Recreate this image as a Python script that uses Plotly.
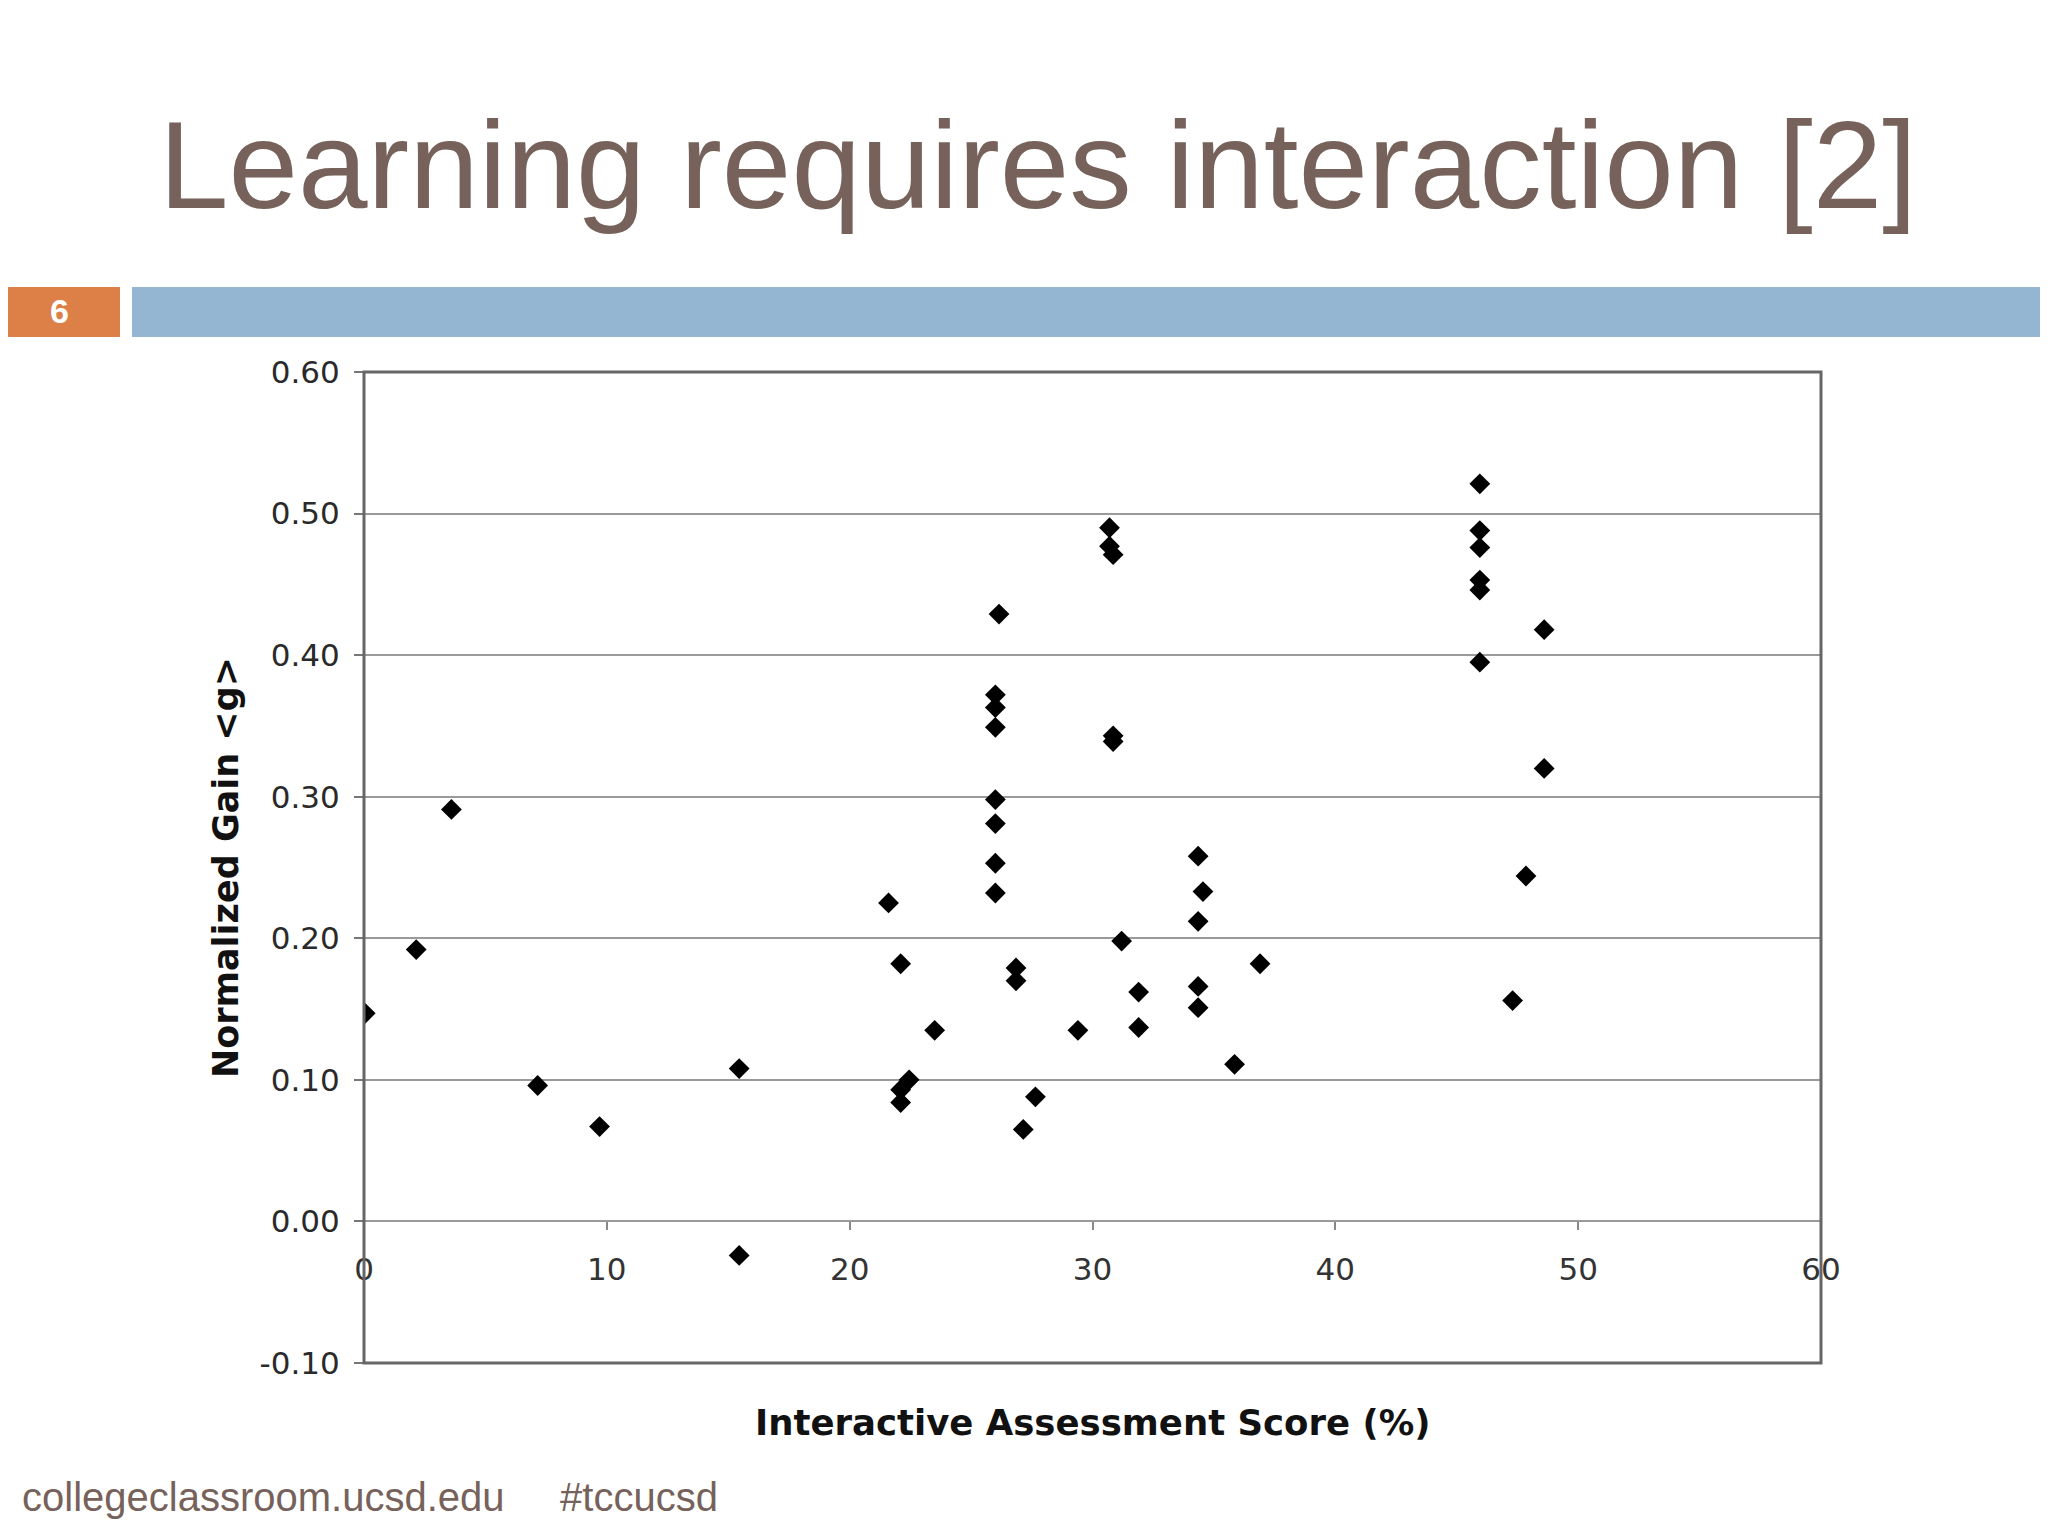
"""
Slide 6: Learning requires interaction [2] - normalized gain vs interactive assessment score.
"""

import plotly.graph_objects as go

# ---------------------------------------------------------------------------
# Data
# ---------------------------------------------------------------------------
score_pct = [
    0.05, 2.15, 3.6, 7.15, 9.7, 15.45, 15.45,
    21.6, 22.1, 22.45, 22.1, 22.1, 23.5,
    26.15, 26.0, 26.0, 26.0, 26.0, 26.0, 26.0, 26.0,
    26.85, 26.85, 27.15, 27.65, 29.4,
    30.7, 30.7, 30.85, 30.85, 30.85, 31.2,
    31.9, 31.9, 34.35, 34.55, 34.35, 34.35, 34.35,
    35.85, 36.9,
    45.95, 45.95, 45.95, 45.95, 45.95, 45.95,
    48.6, 48.6, 47.85, 47.3,
]
normalized_gain = [
    0.147, 0.192, 0.291, 0.096, 0.067, 0.108, -0.024,
    0.225, 0.182, 0.100, 0.093, 0.084, 0.135,
    0.429, 0.372, 0.363, 0.349, 0.298, 0.281, 0.253, 0.232,
    0.179, 0.170, 0.065, 0.088, 0.135,
    0.490, 0.477, 0.471, 0.343, 0.339, 0.198,
    0.162, 0.137, 0.258, 0.233, 0.212, 0.166, 0.151,
    0.111, 0.182,
    0.521, 0.488, 0.476, 0.453, 0.446, 0.395,
    0.418, 0.320, 0.244, 0.156,
]

x_ticks = [0, 10, 20, 30, 40, 50, 60]
y_ticks = [-0.10, 0.00, 0.10, 0.20, 0.30, 0.40, 0.50, 0.60]

TITLE = "Learning requires interaction [2]"
SLIDE_NO = "6"
FOOTER = "collegeclassroom.ucsd.edu &nbsp;&nbsp;&nbsp; #tccucsd"

# ---------------------------------------------------------------------------
# Page geometry (slide pixels; the page body has an 8px margin)
# ---------------------------------------------------------------------------
OFF = 8
FW, FH = 2048 - 2 * OFF, 1536 - 2 * OFF
PLOT_L, PLOT_R, PLOT_T, PLOT_B = 364 - OFF, 1821 - OFF, 372 - OFF, 1363 - OFF

TEXT_BROWN = "#76625a"
ORANGE = "#dd8047"
BLUE = "#94b6d2"
AXIS_FONT = "DejaVu Sans"
SLIDE_FONT = "Liberation Sans Narrow, Liberation Sans, Arial"


def px_x(px):
    """slide pixel x -> paper fraction"""
    return (px - OFF - PLOT_L) / (PLOT_R - PLOT_L)


def px_y(py):
    """slide pixel y -> paper fraction"""
    return (PLOT_B - (py - OFF)) / (PLOT_B - PLOT_T)


fig = go.Figure()

fig.add_trace(
    go.Scatter(
        x=score_pct,
        y=normalized_gain,
        mode="markers",
        marker=dict(symbol="diamond", size=16, color="#000000", line=dict(width=0)),
        showlegend=False,
        hovertemplate="%{x:.1f}%, %{y:.2f}<extra></extra>",
    )
)

# x axis crosses at y = 0 (Excel style)
y_min, y_max = -0.10, 0.60
zero_pos = (0 - y_min) / (y_max - y_min)

fig.update_layout(
    width=FW,
    height=FH,
    paper_bgcolor="#ffffff",
    plot_bgcolor="#ffffff",
    margin=dict(l=PLOT_L, r=FW - PLOT_R, t=PLOT_T, b=FH - PLOT_B),
    xaxis=dict(
        range=[0, 60],
        tickvals=x_ticks,
        ticktext=[str(v) for v in x_ticks],
        anchor="free",
        position=zero_pos,
        showline=False,
        showgrid=False,
        zeroline=False,
        ticks="outside",
        ticklen=8,
        tickwidth=2,
        tickcolor="#888888",
        ticklabelstandoff=12,
        tickfont=dict(family=AXIS_FONT, size=31, color="#333333"),
        title=None,
    ),
    yaxis=dict(
        range=[y_min, y_max],
        tickvals=y_ticks,
        ticktext=[f"{v:.2f}" for v in y_ticks],
        showgrid=True,
        gridcolor="#9a9a9a",
        gridwidth=2,
        zeroline=False,
        showline=False,
        ticks="outside",
        ticklen=9,
        tickwidth=2,
        tickcolor="#777777",
        ticklabelstandoff=8,
        tickfont=dict(family=AXIS_FONT, size=31, color="#2a2a2a"),
        title=dict(
            text="Normalized Gain <g>",
            font=dict(family=AXIS_FONT, size=35, color="#111111", weight="bold"),
            standoff=10,
        ),
    ),
)

# plot frame
fig.add_shape(
    type="rect", xref="paper", yref="paper", x0=0, x1=1, y0=0, y1=1,
    line=dict(color="#666666", width=3), layer="above",
)

# x-axis title below the frame
fig.add_annotation(
    text="<b>Interactive Assessment Score (%)</b>",
    xref="paper", yref="paper", x=px_x(1092), y=px_y(1422),
    xanchor="center", yanchor="middle", showarrow=False,
    font=dict(family=AXIS_FONT, size=35.5, color="#111111"),
)

# slide header: title, number tab, blue band
fig.add_annotation(
    text=TITLE,
    xref="paper", yref="paper", x=px_x(1038), y=px_y(164),
    xanchor="center", yanchor="middle", showarrow=False,
    font=dict(family=SLIDE_FONT, size=125, color=TEXT_BROWN),
)
fig.add_shape(
    type="rect", xref="paper", yref="paper",
    x0=px_x(0), x1=px_x(120), y0=px_y(337), y1=px_y(287),
    fillcolor=ORANGE, line=dict(width=0), layer="above",
)
fig.add_shape(
    type="rect", xref="paper", yref="paper",
    x0=px_x(132), x1=px_x(2048), y0=px_y(337), y1=px_y(287),
    fillcolor=BLUE, line=dict(width=0), layer="above",
)
fig.add_annotation(
    text=f"<b>{SLIDE_NO}</b>",
    xref="paper", yref="paper", x=px_x(59), y=px_y(311),
    xanchor="center", yanchor="middle", showarrow=False,
    font=dict(family="Liberation Sans, Arial", size=34, color="#ffffff"),
)

# footer
fig.add_annotation(
    text=FOOTER,
    xref="paper", yref="paper", x=px_x(20), y=px_y(1497),
    xanchor="left", yanchor="middle", showarrow=False,
    font=dict(family=SLIDE_FONT, size=40, color=TEXT_BROWN),
)

fig.write_html("out.html")
